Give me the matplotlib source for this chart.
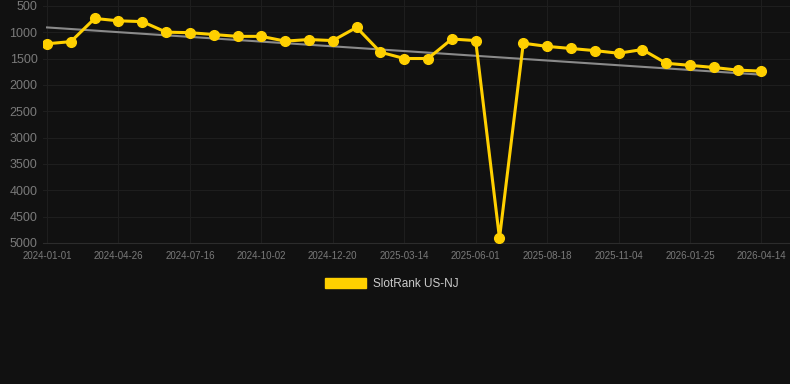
import numpy as np
import matplotlib
matplotlib.use('Agg')
import matplotlib.pyplot as plt
from matplotlib.patches import Patch

plt.rcParams['font.family'] = ['Liberation Sans', 'DejaVu Sans']

# rank values, one per period (lower is better, axis inverted)
ranks = [1220, 1180, 740, 785, 800, 1000, 1010, 1045, 1080, 1080,
         1170, 1140, 1160, 910, 1380, 1500, 1500, 1130, 1160, 4910,
         1210, 1270, 1310, 1350, 1400, 1330, 1590, 1630, 1670, 1720, 1740]
tick_labels = ['2024-01-01', '2024-04-26', '2024-07-16', '2024-10-02', '2024-12-20',
               '2025-03-14', '2025-06-01', '2025-08-18', '2025-11-04', '2026-01-25',
               '2026-04-14']
y_ticks = [500, 1000, 1500, 2000, 2500, 3000, 3500, 4000, 4500, 5000]

bg = '#111111'
x = np.arange(len(ranks))

fig = plt.figure(figsize=(7.9, 3.84), dpi=100, facecolor=bg)
ax = fig.add_axes([43 / 790, 1 - 243 / 384, 1 - 43 / 790, 243 / 384])
ax.set_facecolor(bg)

# trend line (linear fit)
k, b = np.polyfit(x, ranks, 1)
ax.plot(x, k * x + b, color='#8a8a8a', linewidth=1.5, zorder=2)

ax.plot(x, ranks, color='#FFD000', linewidth=2.2, marker='o', markersize=7,
        zorder=3)

ax.set_xlim(-0.17, 31.2)
ax.set_ylim(5000, 390)
ax.set_yticks(y_ticks)
ax.set_xticks(x[::3])
ax.set_xticklabels(tick_labels)
ax.grid(True, color='#1e1e1e', linewidth=0.8)
ax.set_axisbelow(True)
for s in ['top', 'right', 'left']:
    ax.spines[s].set_visible(False)
ax.spines['bottom'].set_color('#2c2c2c')
ax.tick_params(axis='y', colors='#7a7a7a', labelsize=9, length=0, pad=4)
ax.tick_params(axis='x', colors='#7a7a7a', labelsize=7, length=0, pad=6)

fig.legend(handles=[Patch(color='#FFD000', label='SlotRank US-NJ')],
           loc='center', bbox_to_anchor=(0.496, 1 - 284 / 384), frameon=False,
           labelcolor='#cccccc', fontsize=8.5, handlelength=3.4, handleheight=1.0,
           handletextpad=0.6)

fig.savefig('out.png', dpi=100, facecolor=bg)
